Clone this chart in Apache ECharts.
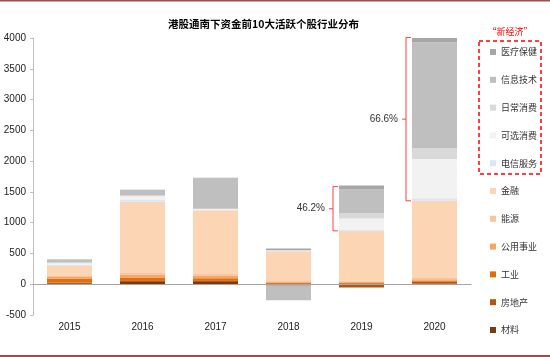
<!DOCTYPE html>
<html>
<head>
<meta charset="utf-8">
<script src="https://cdn.jsdelivr.net/npm/echarts@6/dist/echarts.min.js"></script>
<style>html,body{margin:0;padding:0;background:#fff;}#c{width:550px;height:357px;}</style>
</head>
<body>
<div id="c"></div>
<script>
var categories = ['2015','2016','2017','2018','2019','2020'];
var seriesNames = ['材料','房地产','工业','公用事业','能源','金融','电信服务','可选消费','日常消费','信息技术','医疗保健'];
var materials   = [15, 38, 38, -20, 10, 10];
var realEstate  = [12, 27, 27, 15, -55, 30];
var industrial  = [65, 44, 33, 10, 15, 15];
var utilities   = [27, 43, 43, 20, 15, 25];
var energy      = [22, 32, 32, 20, 15, 20];
var financials  = [157, 1154, 1030, 470, 812, 1255];
var telecom     = [20, 38, 5, 5, 20, 40];
var consDisc    = [24, 54, 15, 5, 180, 640];
var consStaples = [10, 10, 5, 10, 90, 175];
var infoTech    = [50, 90, 490, -240, 380, 1720];
var health      = [5, 5, 10, 25, 65, 95];
var yTicks = {min: -500, max: 4000, interval: 500};
var bracketCats = [4, 5];
var bracketLabels = ['46.2%', '66.6%'];

var dataSets = [materials, realEstate, industrial, utilities, energy, financials, telecom, consDisc, consStaples, infoTech, health];
var colors = ['#7a3a0e','#b5550f','#e46c0a','#f6a565','#f9c49a','#fcd5b5','#dce6f2','#f2f2f2','#d9d9d9','#bfbfbf','#a6a6a6'];

var chart = echarts.init(document.getElementById('c'));
var series = seriesNames.map(function(n, i){
  return {name: n, type: 'bar', stack: 'all', data: dataSets[i], barWidth: 45,
    itemStyle: {color: colors[i]}, emphasis: {disabled: true}};
});
chart.setOption({
  animation: false,
  title: {text: '港股通南下资金前10大活跃个股行业分布', left: 163, top: 14,
    textStyle: {fontSize: 10.5, fontWeight: 'bold', color: '#000', fontFamily: 'Noto Sans CJK SC'}},
  grid: {left: 33, right: 79, top: 38, bottom: 42},
  legend: {orient: 'vertical', left: 485, top: 40, itemWidth: 6, itemHeight: 6, itemGap: 13.8,
    icon: 'rect', data: seriesNames.slice().reverse(),
    textStyle: {fontSize: 9, color: '#333', fontFamily: 'Noto Sans CJK SC', lineHeight: 14}},
  xAxis: {type: 'category', data: categories, z: 10,
    axisLine: {lineStyle: {color: '#a6a6a6'}},
    axisTick: {length: 3, lineStyle: {color: '#a6a6a6'}},
    axisLabel: {fontSize: 10, color: '#222', fontFamily: 'Liberation Sans', margin: 7}},
  yAxis: {type: 'value', min: yTicks.min, max: yTicks.max, interval: yTicks.interval,
    splitLine: {show: false},
    axisLine: {show: true, lineStyle: {color: '#bfbfbf'}},
    axisTick: {show: true, length: 3, lineStyle: {color: '#bfbfbf'}},
    axisLabel: {fontSize: 10, color: '#222', fontFamily: 'Liberation Sans', margin: 7,
      formatter: function(v){ return String(v); }}},
  series: series
});

var g = [];
g.push({type: 'rect', shape: {x: 0, y: 0, width: 550, height: 1.5}, style: {fill: '#9e4b4b'}});
g.push({type: 'rect', shape: {x: 0, y: 355, width: 550, height: 2}, style: {fill: '#9e4b4b'}});
g.push({type: 'rect', shape: {x: 479, y: 41, width: 62, height: 133}, style: {fill: 'none', stroke: '#ff0000', lineWidth: 1.5, lineDash: [4, 3]}});
g.push({type: 'text', x: 510, y: 32, style: {text: '“新经济”', fill: '#ff0000', font: '9px "Noto Sans CJK SC"', textAlign: 'center', textVerticalAlign: 'middle'}});
bracketCats.forEach(function(ci, k){
  var total = 0, finTop = 0;
  dataSets.forEach(function(d, si){ if (d[ci] > 0) { total += d[ci]; if (si <= 5) finTop += d[ci]; } });
  var pTop = chart.convertToPixel({seriesIndex: 0}, [ci, total]);
  var pBot = chart.convertToPixel({seriesIndex: 0}, [ci, finTop]);
  var x = pTop[0] - 22.5 - 6;
  var yT = pTop[1] + 1, yB = pBot[1], yM = (yT + yB) / 2;
  g.push({type: 'polyline', shape: {points: [[x + 5, yT], [x, yT], [x, yB], [x + 5, yB]]}, style: {stroke: '#ff4040', lineWidth: 1, fill: 'none'}});
  g.push({type: 'line', shape: {x1: x - 4, y1: yM, x2: x, y2: yM}, style: {stroke: '#ff4040', lineWidth: 1}});
  g.push({type: 'text', x: x - 8, y: yM, style: {text: bracketLabels[k], fill: '#333', font: '10px "Liberation Sans"', textAlign: 'right', textVerticalAlign: 'middle'}});
});
chart.setOption({graphic: g});
</script>
</body>
</html>
